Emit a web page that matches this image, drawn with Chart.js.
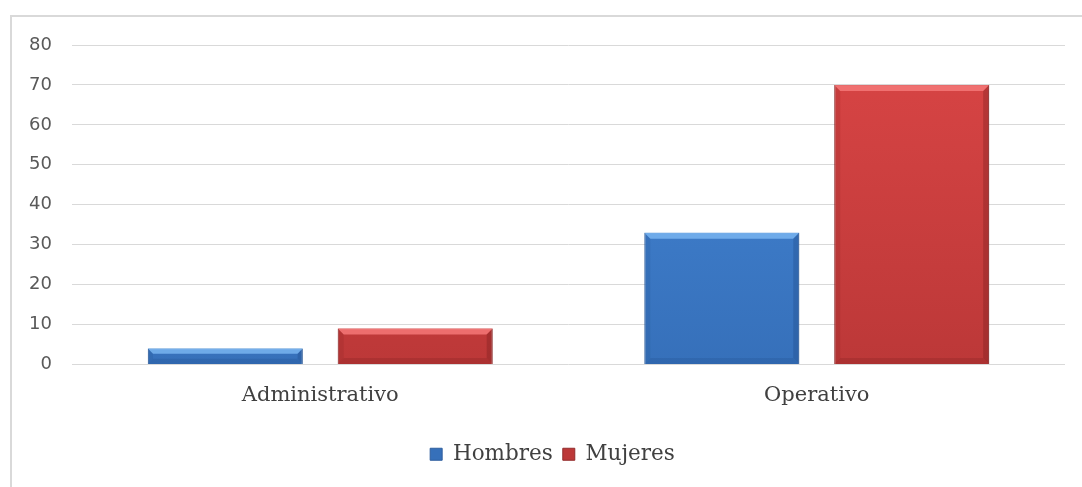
<!DOCTYPE html>
<html>
<head>
<meta charset="utf-8">
<script src="https://cdn.jsdelivr.net/npm/chart.js@4"></script>
<style>
html,body{margin:0;padding:0;background:#fff;}
#wrap{width:1082px;height:487px;position:relative;}
</style>
</head>
<body>
<div id="wrap"><canvas id="c" width="1082" height="487"></canvas></div>
<script>
const categories = ["Administrativo", "Operativo"];
const hombres = [4, 33];
const mujeres = [9, 70];
const seriesNames = ["Hombres", "Mujeres"];
const yTicks = [0, 10, 20, 30, 40, 50, 60, 70, 80];

const frame = {
  id: 'frame',
  beforeDraw(chart) {
    const ctx = chart.ctx;
    ctx.save();
    ctx.fillStyle = '#fff';
    ctx.fillRect(0, 0, chart.width, chart.height);
    ctx.strokeStyle = '#d9d9d9';
    ctx.lineWidth = 2;
    ctx.beginPath();
    ctx.moveTo(11, chart.height);
    ctx.lineTo(11, 16);
    ctx.lineTo(chart.width, 16);
    ctx.stroke();
    ctx.restore();
  }
};

const legendShift = {
  id: 'legendShift',
  afterLayout(chart) {
    if (chart.legend) {
      chart.legend.left += 20;
      chart.legend.right += 20;
    }
  }
};

const bevel = {
  id: 'bevel',
  afterDatasetsDraw(chart) {
    const ctx = chart.ctx;
    const tones = [
      {light: 'rgba(120,180,240,0.85)', dark: 'rgba(30,70,130,0.35)'},
      {light: 'rgba(245,120,120,0.85)', dark: 'rgba(110,25,25,0.35)'}
    ];
    chart.data.datasets.forEach((ds, di) => {
      const meta = chart.getDatasetMeta(di);
      meta.data.forEach(bar => {
        const l = bar.x - bar.width / 2, r = bar.x + bar.width / 2;
        const t = bar.y, b = bar.base;
        const h = b - t;
        const e = Math.min(6, h / 3);
        ctx.save();
        ctx.fillStyle = tones[di].light;
        ctx.beginPath();
        ctx.moveTo(l, t); ctx.lineTo(r, t); ctx.lineTo(r - e, t + e); ctx.lineTo(l + e, t + e); ctx.closePath();
        ctx.fill();
        ctx.fillStyle = tones[di].dark;
        ctx.globalAlpha = 0.6;
        ctx.beginPath();
        ctx.moveTo(l, b); ctx.lineTo(r, b); ctx.lineTo(r - e, b - e); ctx.lineTo(l + e, b - e); ctx.closePath();
        ctx.fill();
        ctx.globalAlpha = 0.9;
        ctx.beginPath();
        ctx.moveTo(r, t); ctx.lineTo(r, b); ctx.lineTo(r - e, b - e); ctx.lineTo(r - e, t + e); ctx.closePath();
        ctx.fill();
        ctx.globalAlpha = 0.4;
        ctx.beginPath();
        ctx.moveTo(l, t); ctx.lineTo(l, b); ctx.lineTo(l + e, b - e); ctx.lineTo(l + e, t + e); ctx.closePath();
        ctx.fill();
        ctx.restore();
      });
    });
  }
};

function barGrad(ctx, top, bottom) {
  const chart = ctx.chart;
  const ca = chart.chartArea;
  if (!ca) return top;
  const bar = ctx.element;
  let y0 = ca.top, y1 = ca.bottom;
  if (bar && isFinite(bar.y) && isFinite(bar.base)) { y0 = bar.y; y1 = bar.base; }
  const g = chart.ctx.createLinearGradient(0, y0, 0, y1 + 1);
  g.addColorStop(0, top);
  g.addColorStop(1, bottom);
  return g;
}

new Chart(document.getElementById('c'), {
  type: 'bar',
  data: {
    labels: categories,
    datasets: [
      {
        label: seriesNames[0],
        data: hombres,
        backgroundColor: ctx => barGrad(ctx, '#4486d6', '#3670ba'),
        borderColor: '#2f5f9e',
        borderWidth: 1,
        barPercentage: 0.816,
        categoryPercentage: 0.765
      },
      {
        label: seriesNames[1],
        data: mujeres,
        backgroundColor: ctx => barGrad(ctx, '#d94545', '#bc3838'),
        borderColor: '#922c2c',
        borderWidth: 1,
        barPercentage: 0.816,
        categoryPercentage: 0.765
      }
    ]
  },
  options: {
    responsive: false,
    animation: false,
    devicePixelRatio: 1,
    layout: { padding: { top: 45, right: 17, left: 0, bottom: 12 } },
    plugins: {
      tooltip: { enabled: false },
      legend: {
        position: 'bottom',
        labels: {
          boxWidth: 12,
          boxHeight: 12,
          padding: 10,
          color: '#404040',
          font: { family: 'DejaVu Serif', size: 21.5 }
        }
      }
    },
    scales: {
      x: {
        grid: { display: false },
        border: { display: false },
        ticks: {
          color: '#404040',
          padding: 10,
          font: { family: 'DejaVu Serif', size: 21 }
        },
        afterFit(scale) { scale.height = 69; }
      },
      y: {
        min: 0,
        max: 80,
        afterBuildTicks(scale) { scale.ticks = yTicks.map(v => ({ value: v })); },
        grid: { color: '#d9d9d9', lineWidth: 1, drawTicks: false },
        border: { display: false },
        ticks: {
          color: '#595959',
          padding: 20,
          font: { family: 'DejaVu Sans', size: 18 }
        },
        afterFit(scale) { scale.width = 72; }
      }
    }
  },
  plugins: [frame, legendShift, bevel]
});
</script>
</body>
</html>
